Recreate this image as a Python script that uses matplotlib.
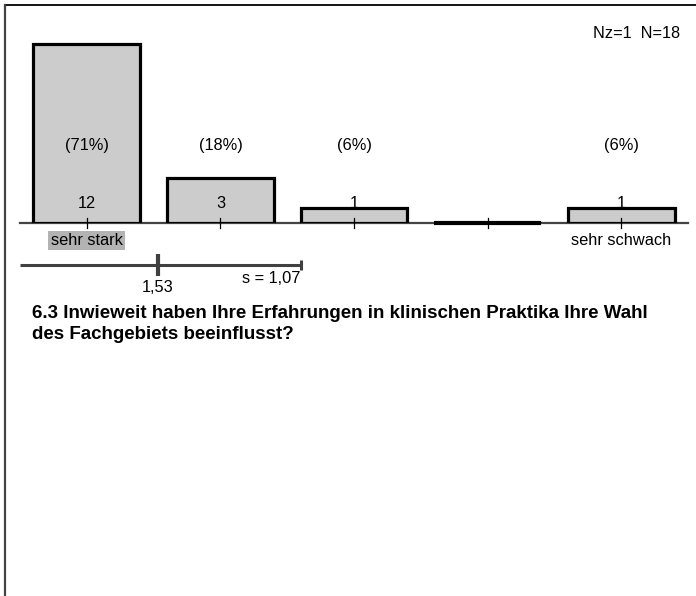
import numpy as np
import matplotlib.pyplot as plt
from matplotlib.lines import Line2D

plt.rcParams['font.family'] = ['Liberation Sans', 'DejaVu Sans']

# Antwortverteilung (1 = sehr stark ... 5 = sehr schwach)
positions = [1, 2, 3, 4, 5]
counts = [12, 3, 1, 0, 1]
percents = ['(71%)', '(18%)', '(6%)', '', '(6%)']
count_labels = ['12', '3', '1', '', '1']
mean_value = 1.53
sd_value = 1.07
mean_label = '1,53'
sd_label = 's = 1,07'
n_label = 'Nz=1  N=18'
left_label = 'sehr stark'
right_label = 'sehr schwach'
question = ('6.3 Inwieweit haben Ihre Erfahrungen in klinischen Praktika Ihre Wahl\n'
            'des Fachgebiets beeinflusst?')

W, H = 696, 596
fig = plt.figure(figsize=(W / 100, H / 100), dpi=100)

# axes in pixel layout: x 0.5..5.5 spans 20..688 px, baseline at y=222.7 px
unit = 14.85
base_y = 222.7
ymax = 14
ax = fig.add_axes([20 / W, 1 - base_y / H, 668 / W, ymax * unit / H])
ax.set_xlim(0.5, 5.5)
ax.set_ylim(0, ymax)
ax.axis('off')

ax.bar(positions, counts, width=0.8, color='#cccccc', edgecolor='black',
       linewidth=2.3, zorder=3)
# empty categories still show a flat bar outline
for p, c in zip(positions, counts):
    if c == 0:
        ax.plot([p - 0.4, p + 0.4], [0, 0], color='black', lw=3,
                solid_capstyle='butt', clip_on=False, zorder=3)

# baseline and ticks
ax.plot([0.5, 5.5], [0, 0], color='#444444', lw=1.6, clip_on=False, zorder=2)
for p in positions:
    ax.plot([p, p], [-0.35, 0.3], color='black', lw=0.9, clip_on=False, zorder=4)

for p, pc, cl in zip(positions, percents, count_labels):
    ax.text(p, 5.2, pc, ha='center', va='center', fontsize=11.8)
    ax.text(p, 1.3, cl, ha='center', va='center', fontsize=11.8, zorder=5)

ax.text(1, -1.2, left_label, ha='center', va='center', fontsize=11.8,
        bbox=dict(boxstyle='square,pad=0.15', fc='#b3b3b3', ec='none'))
ax.text(5, -1.2, right_label, ha='center', va='center', fontsize=11.8)

# mean and standard deviation line
my = -2.85
ax.plot([0.5, mean_value + sd_value], [my, my], color='#404040', lw=2.2,
        clip_on=False, solid_capstyle='butt')
ax.plot([mean_value, mean_value], [my - 0.75, my + 0.75], color='#404040',
        lw=3, clip_on=False, solid_capstyle='butt')
ax.plot([mean_value + sd_value] * 2, [my - 0.35, my + 0.35], color='#404040',
        lw=2.2, clip_on=False, solid_capstyle='butt')
ax.text(mean_value, my - 1.5, mean_label, ha='center', va='center', fontsize=11.8)
ax.text(mean_value + sd_value, my - 0.9, sd_label, ha='right', va='center',
        fontsize=11.8)

fig.text(680 / W, 1 - 34 / H, n_label, ha='right', va='center', fontsize=11.8)
fig.text(32 / W, 1 - 305.5 / H, question, ha='left', va='top', fontsize=13.5,
         fontweight='bold', linespacing=1.25)

# frame lines on top and left
fig.add_artist(Line2D([4.5 / W, 1], [1 - 5 / H, 1 - 5 / H], color='black', lw=1.3))
fig.add_artist(Line2D([4.5 / W, 4.5 / W], [0, 1 - 5 / H], color='#444444', lw=1.6))

fig.savefig('out.png', dpi=100)
